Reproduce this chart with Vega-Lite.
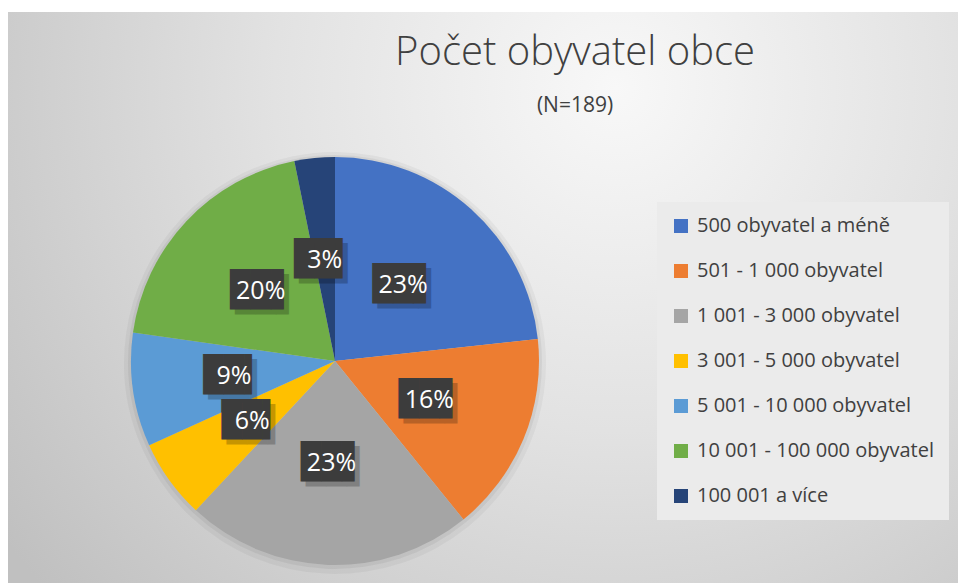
{
  "$schema": "https://vega.github.io/schema/vega-lite/v6.json",
  "width": 950,
  "height": 571,
  "autosize": {"type": "none"},
  "padding": {"left": 8, "top": 12, "right": 0, "bottom": 0},
  "background": "#ffffff",
  "config": {"view": {"stroke": "#d9d9d9", "strokeWidth": 1}},
  "title": {
    "text": "Počet obyvatel obce",
    "subtitle": "(N=189)",
    "font": "Open Sans",
    "fontSize": 40,
    "fontWeight": 300,
    "color": "#404040",
    "subtitleFont": "Open Sans",
    "subtitleFontSize": 21,
    "subtitleFontWeight": "normal",
    "subtitleColor": "#404040",
    "subtitlePadding": 22,
    "anchor": "middle",
    "dx": 92,
    "dy": 108
  },
  "data": {
    "values": [
      {"kategorie": "500 obyvatel a méně", "podil": 0.233, "poradi": 1},
      {"kategorie": "501 - 1 000 obyvatel", "podil": 0.159, "poradi": 2},
      {"kategorie": "1 001 - 3 000 obyvatel", "podil": 0.228, "poradi": 3},
      {"kategorie": "3 001 - 5 000 obyvatel", "podil": 0.063, "poradi": 4},
      {"kategorie": "5 001 - 10 000 obyvatel", "podil": 0.09, "poradi": 5},
      {"kategorie": "10 001 - 100 000 obyvatel", "podil": 0.196, "poradi": 6},
      {"kategorie": "100 001 a více", "podil": 0.032, "poradi": 7}
    ]
  },
  "encoding": {
    "theta": {"field": "podil", "type": "quantitative", "stack": true},
    "order": {"field": "poradi", "type": "quantitative"}
  },
  "layer": [
    {
      "data": {"values": [{}]},
      "mark": {
        "type": "rect",
        "fill": {
          "gradient": "radial",
          "x1": 0.64, "y1": 0.28, "r1": 0,
          "x2": 0.64, "y2": 0.28, "r2": 0.8,
          "stops": [
            {"offset": 0, "color": "#f8f8f8"},
            {"offset": 0.45, "color": "#e2e2e2"},
            {"offset": 1, "color": "#c0c0c0"}
          ]
        }
      },
      "encoding": {}
    },
    {
      "mark": {"type": "arc", "outerRadius": 211, "x": 327, "y": 351, "stroke": null, "fill": "#000000", "opacity": 0.04},
      "encoding": {"detail": {"field": "kategorie", "type": "nominal"}}
    },
    {
      "mark": {"type": "arc", "outerRadius": 207, "x": 327, "y": 350, "stroke": null, "fill": "#000000", "opacity": 0.05},
      "encoding": {"detail": {"field": "kategorie", "type": "nominal"}}
    },
    {
      "mark": {"type": "arc", "outerRadius": 204, "x": 327, "y": 349, "stroke": null},
      "encoding": {
        "color": {
          "field": "kategorie",
          "type": "nominal",
          "sort": ["500 obyvatel a méně", "501 - 1 000 obyvatel", "1 001 - 3 000 obyvatel", "3 001 - 5 000 obyvatel", "5 001 - 10 000 obyvatel", "10 001 - 100 000 obyvatel", "100 001 a více"],
          "scale": {
            "domain": ["500 obyvatel a méně", "501 - 1 000 obyvatel", "1 001 - 3 000 obyvatel", "3 001 - 5 000 obyvatel", "5 001 - 10 000 obyvatel", "10 001 - 100 000 obyvatel", "100 001 a více"],
            "range": ["#4472C4", "#ED7D31", "#A5A5A5", "#FFC000", "#5B9BD5", "#70AD47", "#264478"]
          },
          "legend": {
            "title": null,
            "orient": "none",
            "legendX": 649,
            "legendY": 190,
            "symbolType": "square",
            "symbolSize": 196,
            "symbolStrokeWidth": 0,
            "labelFont": "Open Sans",
            "labelFontSize": 20,
            "labelColor": "#404040",
            "labelOffset": 6,
            "labelLimit": 400,
            "rowPadding": 25,
            "padding": 14,
            "fillColor": "#ebebeb",
            "strokeColor": null
          }
        }
      }
    },
    {
      "mark": {"type": "text", "radius": 102, "x": 327, "y": 349, "font": "DejaVu Sans Mono", "fontSize": 34, "color": "#000000", "opacity": 0.22, "dx": 5, "dy": 5, "baseline": "middle", "align": "center"},
      "encoding": {
        "detail": {"field": "kategorie", "type": "nominal"},
        "text": {"condition": {"test": "datum.podil >= 0.1", "value": "██▋"}, "value": "██▍"}
      }
    },
    {
      "mark": {"type": "text", "radius": 102, "x": 327, "y": 349, "font": "DejaVu Sans Mono", "fontSize": 34, "color": "#3c3c3c", "baseline": "middle", "align": "center"},
      "encoding": {
        "detail": {"field": "kategorie", "type": "nominal"},
        "text": {"condition": {"test": "datum.podil >= 0.1", "value": "██▋"}, "value": "██▍"}
      }
    },
    {
      "mark": {"type": "text", "radius": 102, "x": 327, "y": 349, "font": "Open Sans", "fontSize": 25, "color": "#ffffff", "baseline": "middle", "align": "center"},
      "encoding": {
        "detail": {"field": "kategorie", "type": "nominal"},
        "text": {"field": "podil", "type": "quantitative", "format": ".0%"}
      }
    }
  ]
}
